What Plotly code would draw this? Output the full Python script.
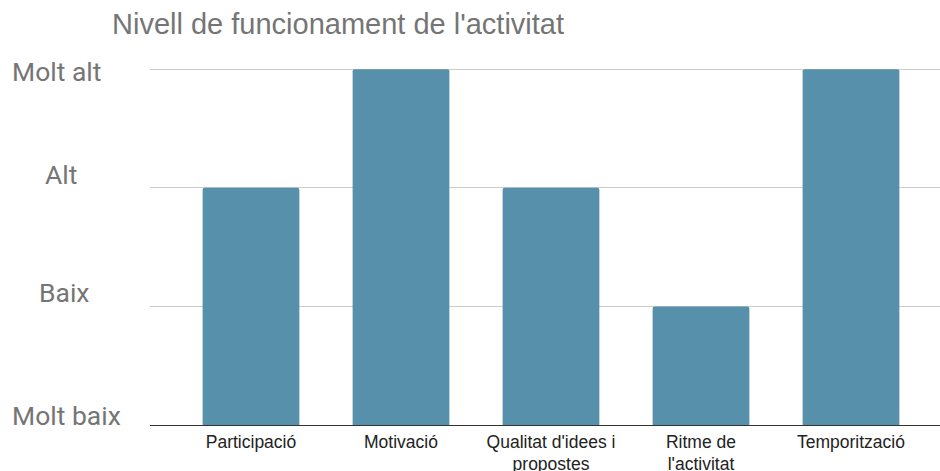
import plotly.graph_objects as go

categories = ["Participació", "Motivació", "Qualitat d'idees i<br>propostes", "Ritme de<br>l'activitat", "Temporització"]
values = [2, 3, 2, 1, 3]
level_values = [0, 1, 2, 3]
level_labels = ["Molt baix", "Baix", "Alt", "Molt alt"]

W, H = 940, 471
L, R, B = 150, 0, 46
YTOP = 3.01
unit = (425 - 69) / 3.0
T = 69 - (YTOP - 3) * unit

fig = go.Figure()
fig.add_trace(go.Bar(
    x=list(range(len(categories))), y=values,
    marker=dict(color="#5690ab", cornerradius=2, line=dict(width=0)),
    width=0.645,
))

# y-axis level labels placed as annotations (they sit above gridlines in the reference)
label_px_x = [66, 64.5, 61, 56]
label_shift = [10, 13.5, 13, -2.5]
ann = []
for v, lab, px, sh in zip(level_values, level_labels, label_px_x, label_shift):
    ann.append(dict(
        x=(px - L) / (W - L - R), xref="paper", y=v, yref="y",
        text=lab, showarrow=False, xanchor="center", yanchor="middle",
        yshift=sh, font=dict(family="Roboto, Arial", size=26.5, color="#757575"),
    ))

fig.update_layout(
    width=W, height=H,
    margin=dict(l=L, r=R, t=T, b=B, autoexpand=False),
    paper_bgcolor="white", plot_bgcolor="white",
    title=dict(text="Nivell de funcionament de l'activitat", x=112 / W, xanchor="left",
               y=1 - 24 / H, yanchor="middle",
               font=dict(family="Liberation Sans, Arial", size=29, color="#757575")),
    showlegend=False,
    annotations=ann,
    xaxis=dict(
        range=[-101 / 150, (940 - 251) / 150], automargin=False,
        tickmode="array", tickvals=list(range(len(categories))), ticktext=categories,
        tickfont=dict(family="Liberation Sans, Arial", size=17.5, color="#222222"),
        ticklabelstandoff=4,
        showgrid=False, zeroline=False, showline=False, ticks="",
    ),
    yaxis=dict(
        range=[0, YTOP], tickvals=level_values, ticktext=["", "", "", ""], automargin=False,
        showgrid=True, gridcolor="#cccccc", gridwidth=1,
        zeroline=True, zerolinecolor="#333333", zerolinewidth=1,
        showline=False, ticks="",
    ),
)

fig.write_html("out.html", config={"displayModeBar": False},
               post_script="document.body.style.margin='0';document.body.style.overflow='hidden';")
